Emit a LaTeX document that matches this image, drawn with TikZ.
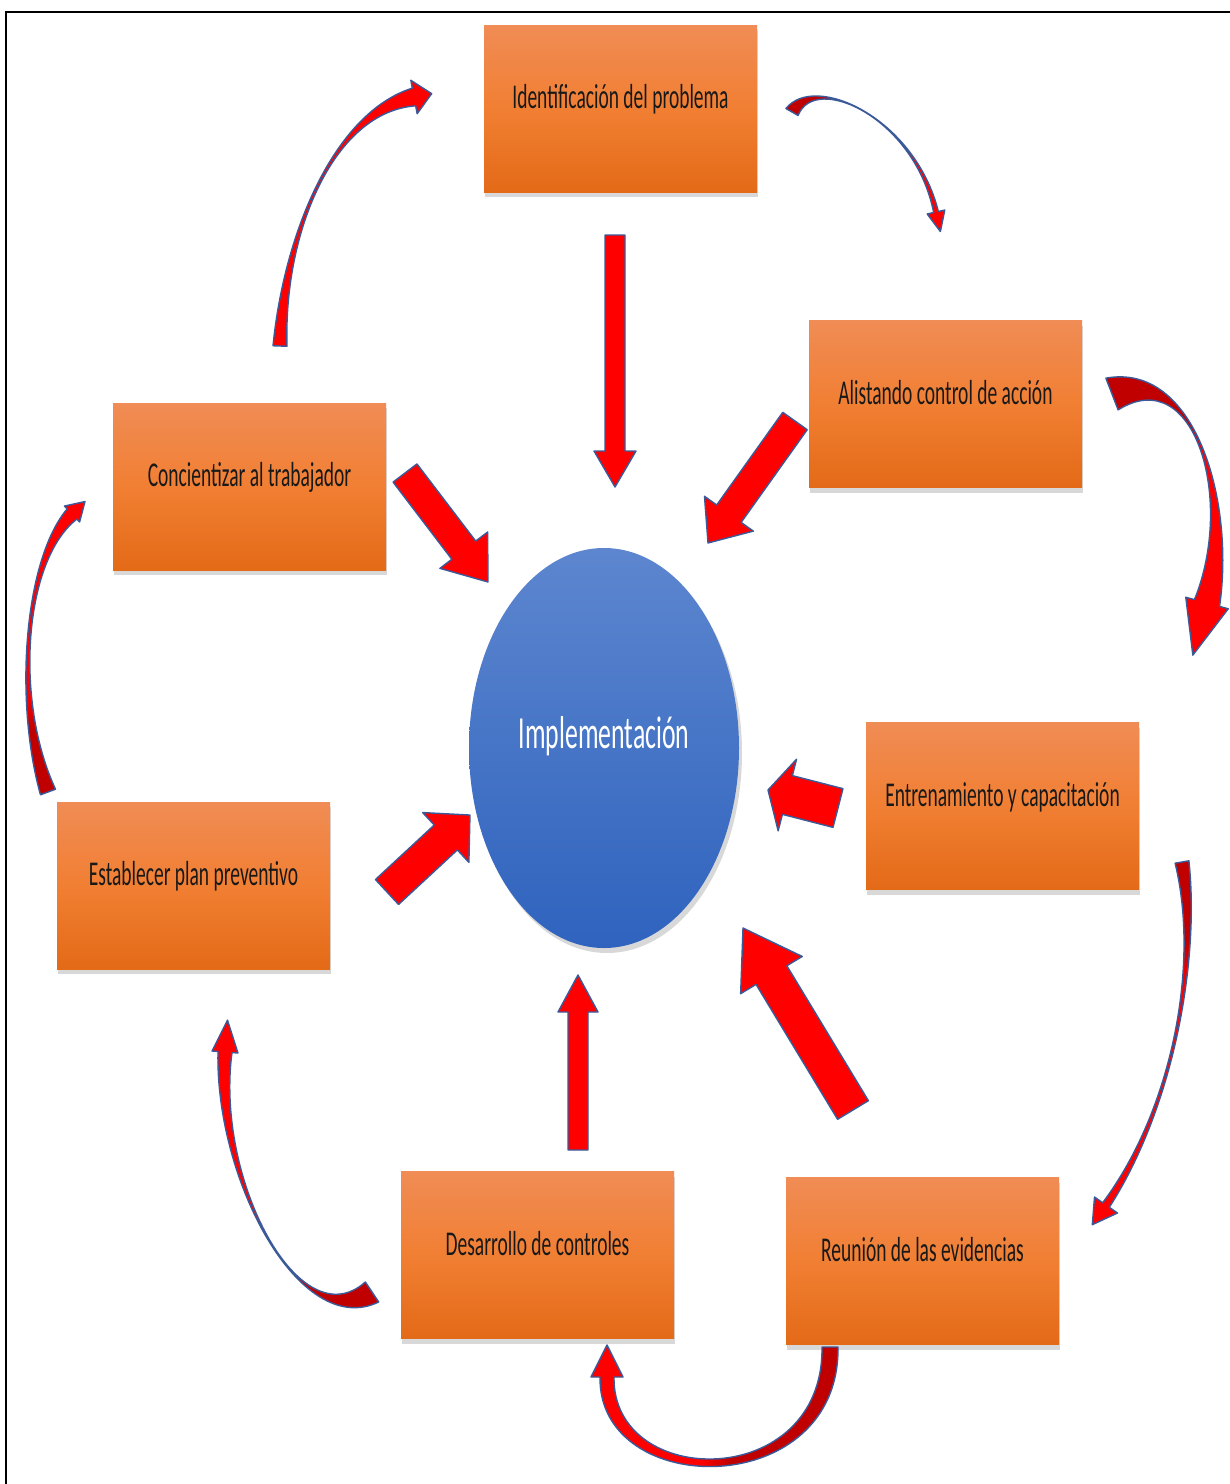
\documentclass[tikz,border=0pt]{standalone}
\usepackage{fontspec}
\setmainfont{Carlito}[FakeStretch=0.56]
\usetikzlibrary{calc,shadows,shapes.geometric}

\definecolor{boxtop}{HTML}{F08C55}
\definecolor{boxmid}{HTML}{F17F33}
\definecolor{boxbot}{HTML}{E36A17}
\definecolor{elltop}{HTML}{5D86CF}
\definecolor{ellbot}{HTML}{2F63BE}
\definecolor{arrred}{HTML}{FF0000}
\definecolor{arrline}{HTML}{3A5A9A}

% red ribbon: bright red towards the head, darker red on the tail part
\pgfdeclareverticalshading{ribbontail}{100bp}{rgb(0bp)=(1,0,0); rgb(58bp)=(1,0,0); rgb(64bp)=(0.753,0,0); rgb(100bp)=(0.753,0,0)}
\pgfdeclareverticalshading{ribbonhalf}{100bp}{rgb(0bp)=(1,0,0); rgb(47bp)=(1,0,0); rgb(53bp)=(0.753,0,0); rgb(100bp)=(0.753,0,0)}

\tikzset{
  stepcard/.style={rectangle, minimum width=136.5pt, minimum height=83.5pt, inner sep=0pt,
    top color=boxtop, bottom color=boxbot, middle color=boxmid,
    drop shadow={opacity=0.3, shadow xshift=0.6pt, shadow yshift=-2.5pt},
    text=black!90, font=\fontsize{17.4}{20}\selectfont, text height=8pt, text depth=8pt},
  hub/.style={ellipse, minimum width=135pt, minimum height=200pt, inner sep=0pt,
    top color=elltop, bottom color=ellbot,
    drop shadow={opacity=0.3, shadow xshift=1.5pt, shadow yshift=-2.5pt},
    text=white, font=\fontsize{23}{26}\selectfont, text height=7pt, text depth=7pt},
  straightarrow/.style={fill=arrred, draw=arrline, line width=0.7pt, line join=round},
  plainribbon/.style={fill=arrred, draw=arrline, line width=0.7pt, line join=round},
  shadedribbon/.style={draw=arrline, line width=0.7pt, line join=round, shade, shading=ribbontail, shading angle=#1},
  halfribbon/.style={draw=arrline, line width=0.7pt, line join=round, shade, shading=ribbonhalf, shading angle=#1},
  rib/.cd, w0/.store in=\ribA, wm/.store in=\ribM, w3/.store in=\ribB, hw/.store in=\ribH, hl/.store in=\ribL,
  w0=3pt, wm=0pt, w3=3pt, hw=7pt, hl=10pt
}

% straight block arrow: tail (#1,#2), tip (#3,#4), half shaft #5, half head #6, head length #7
\newcommand{\blockarrow}[7]{%
  \pgfmathsetmacro{\baAng}{atan2(-(#4)+(#2),(#3)-(#1))}%
  \pgfmathsetmacro{\baLen}{veclen((#3)-(#1),(#4)-(#2))}%
  \pgfmathsetmacro{\baNeck}{\baLen-(#7)}%
  \draw[straightarrow, shift={(#1,#2)}, rotate=\baAng]
    (0,-#5) -- (\baNeck,-#5) -- (\baNeck,-#6) -- (\baLen,0) -- (\baNeck,#6) -- (\baNeck,#5) -- (0,#5) -- cycle;}

% curved tapered arrow along the Bezier #3 .. #4 and #5 .. #6
\newcommand{\ribbon}[6][]{%
  \tikzset{rib/.cd,#1}%
  \coordinate (r0) at #3; \coordinate (r1) at #4;
  \coordinate (r2) at #5; \coordinate (r3) at #6;
  \draw[#2] ($(r0)!\ribA!90:(r1)$)
      .. controls ($(r1)!\ribM!-90:(r0)$) and ($(r2)!\ribM!90:(r3)$) .. ($(r3)!\ribB!-90:(r2)$)
      -- ($(r3)!\ribH!-90:(r2)$) -- ($(r3)!\ribL!180:(r2)$) -- ($(r3)!\ribH!90:(r2)$)
      -- ($(r3)!\ribB!90:(r2)$)
      .. controls ($(r2)!\ribM!-90:(r3)$) and ($(r1)!\ribM!90:(r0)$) .. ($(r0)!\ribA!-90:(r1)$)
      -- cycle;}

\begin{document}
\begin{tikzpicture}[x=0.5pt, y=-0.5pt]
\useasboundingbox (0,0) rectangle (1230,1484);
\fill[white] (0,0) rectangle (1230,1484);

% frame
\draw[line width=1.3pt] (1230,12) -- (6,12) -- (6,1484);

% steps
\node[stepcard] (ident) at (620.5,108.5) {Identificación del problema};
\node[stepcard] (alist) at (945.5,404) {Alistando control de acción};
\node[stepcard] (conc)  at (249.5,486.5) {Concientizar al trabajador};
\node[stepcard] (entr)  at (1002.5,806) {Entrenamiento y capacitación};
\node[stepcard] (estab) at (193.5,885.5) {Establecer plan preventivo};
\node[stepcard] (desa)  at (537.5,1255) {Desarrollo de controles};
\node[stepcard] (reun)  at (922.5,1261) {Reunión de las evidencias};

% centre
\node[hub] (hub) at (604,748) {Implementación};

% arrows into the centre
\blockarrow{615}{235}{615}{487}{10}{21}{36}
\blockarrow{795}{421}{708}{543}{15}{30}{36}
\blockarrow{405}{473}{488}{582}{15}{30}{40}
\blockarrow{838}{808}{768}{790}{20}{37}{20}
\blockarrow{387}{892}{470}{815}{17}{34}{33}
\blockarrow{578}{1150}{578}{975}{10}{20}{37}
\blockarrow{853}{1110}{743}{928}{18}{36}{55}

% cycle around the steps
\ribbon[w0=3.5pt, wm=-0.3pt, w3=4.5pt, hw=8.5pt, hl=9pt]{plainribbon}{(280,346)}{(284,230)}{(335,112)}{(414,97)}
\ribbon[w0=3.5pt, wm=0pt, w3=1.2pt, hw=4.5pt, hl=10pt]{shadedribbon=90}{(792,112)}{(815,72)}{(915,118)}{(936,212)}
\ribbon[w0=8.5pt, wm=0pt, w3=6.5pt, hw=11pt, hl=27pt]{shadedribbon=20}{(1112,394)}{(1195,362)}{(1235,500)}{(1207,603)}
\ribbon[w0=3.5pt, wm=0pt, w3=2pt, hw=7pt, hl=12pt]{shadedribbon=0}{(1182,862)}{(1200,965)}{(1172,1110)}{(1106,1205)}
% U-turn below the two bottom steps
\draw[halfribbon=-90] (838,1347) .. controls (840,1502) and (598,1500) .. (600,1377)
  -- (591,1377) -- (607,1345) -- (623,1377) -- (614,1377)
  .. controls (612,1490) and (824,1492) .. (822,1347) -- cycle;
\ribbon[w0=6pt, wm=0pt, w3=3.5pt, hw=6.5pt, hl=16pt]{shadedribbon=-135}{(372,1292)}{(300,1340)}{(215,1180)}{(225,1052)}
\ribbon[w0=4pt, wm=0pt, w3=3.5pt, hw=5.5pt, hl=9pt]{shadedribbon=180}{(48,792)}{(14,700)}{(24,560)}{(72,514)}
\end{tikzpicture}
\end{document}
